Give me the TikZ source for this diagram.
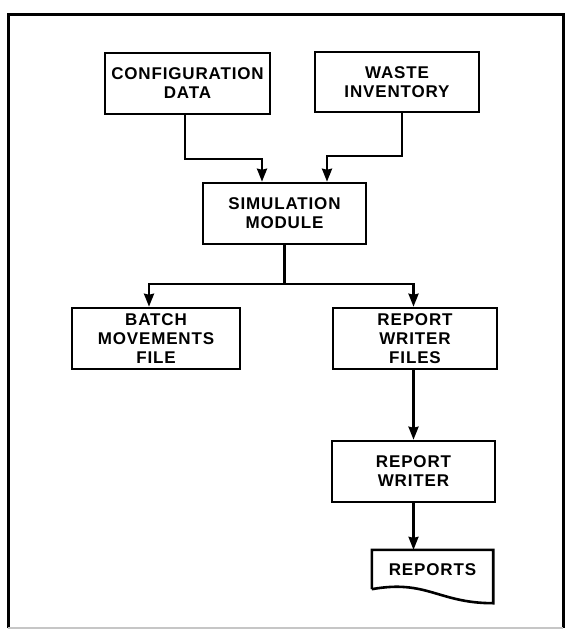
\documentclass[tikz,border=0pt]{standalone}
\usepackage{fontspec}
\newfontfamily\boxfont{Liberation Sans}[LetterSpace=5]
\usetikzlibrary{arrows.meta}

\begin{document}
\begin{tikzpicture}[x=1pt,y=-1pt,font={\boxfont\bfseries\fontsize{17}{19}\selectfont}]
    \tikzset{
        block/.style={
            draw,
            line width=2.6pt,
            align=center,
            inner sep=0pt,
            minimum width=#1,
            minimum height=61pt
        },
        flow/.style={
            line width=2.2pt,
            -{Stealth[length=13pt 0,width=10pt 0,inset=1pt]}
        },
        frame/.style={line width=3pt}
    }

    \useasboundingbox (0,0) rectangle (566,632);
    \draw[frame] (8,628) -- (8,14) -- (563,14) -- (563,628);
    \draw[frame,gray!45,line width=2pt] (8,628) -- (563,628);

    \node[block=165pt] (config) at (187.5,83.5) {CONFIGURATION\\DATA};
    \node[block=164pt,minimum height=60pt] (waste) at (397,82) {WASTE\\INVENTORY};
    \node[block=163pt] (sim) at (284.5,213.5) {SIMULATION\\MODULE};
    \node[block=168pt] (batch) at (156,338.5) {BATCH\\MOVEMENTS\\FILE};
    \node[block=164pt] (rwfiles) at (415,338.5) {REPORT\\WRITER\\FILES};
    \node[block=163pt] (rwriter) at (413.5,471.5) {REPORT\\WRITER};
    \node[minimum width=121pt,minimum height=39pt,inner sep=0pt,text depth=-3pt] (reports) at (432.5,569.5) {REPORTS};
    \coordinate (split) at ([yshift=-39pt] sim.south);

    \draw[line width=2.6pt] (reports.south west) -- (reports.north west)
        -- (reports.north east) -- ([yshift=-14pt] reports.south east)
        .. controls +(-55pt,0pt) and +(55pt,10pt) .. (reports.south west);

    \draw[flow] ([xshift=-2.5pt] config.south) -- ++(0,44) -| ([xshift=-22.5pt] sim.north);
    \draw[flow] ([xshift=5pt] waste.south) -- ++(0,43) -| ([xshift=42.5pt] sim.north);
    \draw[line width=2.2pt] (sim.south) -- (split);
    \draw[flow] (split) -| ([xshift=-7pt] batch.north);
    \draw[flow] (split) -| (rwriter.north |- rwfiles.north);
    \draw[flow] (rwriter.north |- rwfiles.south) -- (rwriter.north);
    \draw[flow] (rwriter.south) -- (rwriter.south |- reports.north);
\end{tikzpicture}
\end{document}
